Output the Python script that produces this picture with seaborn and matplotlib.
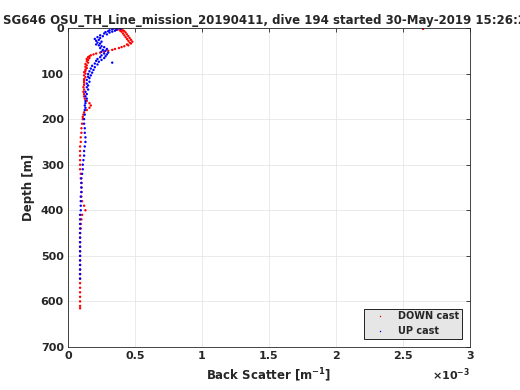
import numpy as np
import pandas as pd
import seaborn as sns
import matplotlib
matplotlib.use('Agg')
import matplotlib.pyplot as plt

# back scatter values in units of 1e-3 m^-1
down_depth = [0.5, 2, 2, 3, 4, 5, 6, 7, 8, 10, 12, 14, 16, 18, 20, 22, 24, 26, 28, 30,
              32, 34, 36, 38, 40, 42, 44, 46, 48, 50, 52, 54, 56, 58, 60, 62, 64, 66, 68, 70,
              73, 76, 79, 82, 85, 88, 91, 94, 97, 100, 104, 108, 112, 116, 120, 125, 130, 135, 140, 145,
              150, 155, 160, 165, 170, 175, 180, 185, 190, 195, 200, 210, 220, 230, 240, 250, 260, 270, 280, 290,
              300, 310, 320, 330, 340, 350, 360, 370, 380, 390, 400, 410, 420, 430, 440, 450, 460, 470, 480, 490,
              500, 510, 520, 530, 540, 550, 560, 570, 580, 590, 600, 610, 615]
down_bs = [0.38, 2.65, 0.36, 0.40, 0.37, 0.41, 0.39, 0.42, 0.40, 0.43, 0.41, 0.44, 0.42, 0.45, 0.43, 0.46, 0.44, 0.47, 0.45, 0.48,
           0.46, 0.47, 0.44, 0.45, 0.42, 0.40, 0.38, 0.35, 0.33, 0.30, 0.27, 0.24, 0.21, 0.19, 0.17, 0.16, 0.15, 0.16, 0.14, 0.15,
           0.14, 0.15, 0.13, 0.14, 0.13, 0.14, 0.13, 0.13, 0.12, 0.13, 0.12, 0.13, 0.12, 0.12, 0.12, 0.12, 0.115, 0.12, 0.115, 0.12,
           0.12, 0.125, 0.14, 0.16, 0.17, 0.16, 0.14, 0.12, 0.115, 0.11, 0.11, 0.105, 0.10, 0.10, 0.095, 0.095, 0.09, 0.09, 0.09, 0.09,
           0.09, 0.09, 0.095, 0.095, 0.10, 0.10, 0.10, 0.10, 0.105, 0.12, 0.13, 0.105, 0.10, 0.095, 0.095, 0.09, 0.09, 0.09, 0.09, 0.09,
           0.09, 0.09, 0.09, 0.09, 0.09, 0.09, 0.09, 0.09, 0.09, 0.09, 0.09, 0.09, 0.09]

up_depth = [0.5, 1, 2, 3, 4, 5, 6, 7, 8, 9, 10, 12, 14, 16, 18, 20, 22, 24, 26, 28,
            30, 32, 34, 36, 38, 40, 42, 44, 46, 48, 50, 52, 54, 56, 58, 60, 62, 64, 66, 68,
            70, 72, 74, 76, 78, 80, 83, 86, 89, 92, 95, 98, 101, 104, 107, 110, 114, 118, 122, 126,
            130, 135, 140, 145, 150, 155, 160, 165, 170, 175, 180, 190, 200, 210, 220, 230, 240, 250, 260, 270,
            280, 290, 300, 310, 320, 330, 340, 350, 360, 370, 380, 390, 400, 410, 420, 430, 440, 450, 460, 470,
            480, 490, 500, 510, 520, 530, 540, 550]
up_bs = [0.37, 0.34, 0.39, 0.33, 0.36, 0.31, 0.35, 0.30, 0.33, 0.28, 0.31, 0.27, 0.29, 0.24, 0.26, 0.22, 0.24, 0.20, 0.23, 0.21,
         0.25, 0.22, 0.24, 0.21, 0.23, 0.25, 0.27, 0.24, 0.29, 0.26, 0.28, 0.25, 0.30, 0.27, 0.29, 0.25, 0.28, 0.24, 0.27, 0.22,
         0.25, 0.21, 0.23, 0.33, 0.20, 0.22, 0.18, 0.20, 0.17, 0.19, 0.16, 0.18, 0.15, 0.17, 0.15, 0.16, 0.14, 0.16, 0.14, 0.15,
         0.14, 0.15, 0.13, 0.14, 0.13, 0.14, 0.13, 0.13, 0.125, 0.13, 0.125, 0.125, 0.12, 0.12, 0.125, 0.125, 0.13, 0.13, 0.125, 0.12,
         0.12, 0.115, 0.11, 0.11, 0.105, 0.10, 0.10, 0.10, 0.10, 0.095, 0.095, 0.095, 0.095, 0.09, 0.09, 0.09, 0.09, 0.09, 0.09, 0.09,
         0.09, 0.09, 0.09, 0.09, 0.09, 0.09, 0.09, 0.09]

title = 'SG646 OSU_TH_Line_mission_20190411, dive 194 started 30-May-2019 15:26:24'

df = pd.concat([
    pd.DataFrame({'depth': down_depth, 'bs': down_bs, 'cast': 'DOWN cast'}),
    pd.DataFrame({'depth': up_depth, 'bs': up_bs, 'cast': 'UP cast'}),
])

sns.set_style('white')
plt.rcParams['font.family'] = ['DejaVu Sans']
plt.rcParams['font.weight'] = 'bold'

fig = plt.figure(figsize=(5.2, 3.9), dpi=100)
ax = fig.add_axes([0.1308, 0.1103, 0.7730, 0.8179])

sns.scatterplot(data=df, x='bs', y='depth', hue='cast', palette={'DOWN cast': 'red', 'UP cast': 'blue'},
                marker='.', s=12, linewidth=0, ax=ax)

ax.set_xlim(0, 3)
ax.set_ylim(700, 0)
ax.set_xticks([0, 0.5, 1, 1.5, 2, 2.5, 3])
ax.set_xticklabels(['0', '0.5', '1', '1.5', '2', '2.5', '3'])
ax.set_yticks(range(0, 701, 100))
ax.grid(True, color='#e6e6e6', linewidth=0.6)
ax.tick_params(direction='in', length=3, labelsize=8, width=0.6, top=True, right=True, pad=3)
for sp in ax.spines.values():
    sp.set_linewidth(0.6)
    sp.set_color('#262626')
ax.set_xlabel('Back Scatter [m$^{\\mathbf{-1}}$]', fontsize=8.5, fontweight='bold')
ax.set_ylabel('Depth [m]', fontsize=8.5, fontweight='bold')
ax.set_title(title, fontsize=8.5, fontweight='bold', pad=3)
ax.text(1.0, -0.06, '$\\times$10$^{\\mathbf{-3}}$', transform=ax.transAxes, ha='right', va='top', fontsize=8)

leg = ax.legend(loc='lower right', fontsize=7, frameon=True, fancybox=False, borderpad=0.3,
                handlelength=2.6, handletextpad=0.6, markerscale=0.6, borderaxespad=0.8)
leg.get_frame().set_facecolor('#e6e6e6')
leg.get_frame().set_edgecolor('black')
leg.get_frame().set_linewidth(0.6)
leg.get_frame().set_alpha(1)

fig.savefig('out.png', dpi=100)
